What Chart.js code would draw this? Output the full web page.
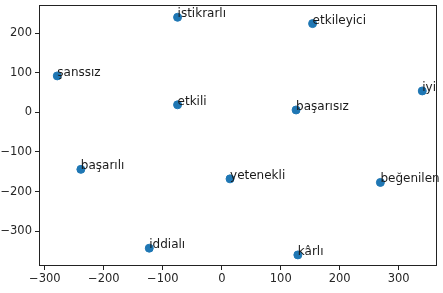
<!DOCTYPE html>
<html>
<head>
<meta charset="utf-8">
<script src="https://cdn.jsdelivr.net/npm/chart.js@4/dist/chart.umd.min.js"></script>
<style>
  html, body { margin: 0; padding: 0; background: #fff; }
  #wrap { width: 443px; height: 293px; }
</style>
</head>
<body>
<div id="wrap"><canvas id="chart"></canvas></div>
<script>
const words = ["istikrarlı", "etkileyici", "şanssız", "iyi", "etkili", "başarısız", "başarılı", "yetenekli", "beğenilen", "iddialı", "kârlı"];
const xValues = [-75, 154, -279, 340, -75, 126, -239, 14, 269, -123, 129];
const yValues = [240, 224, 92, 54, 19, 6, -144, -168, -177, -343, -360];
const xTicks = [-300, -200, -100, 0, 100, 200, 300];
const yTicks = [-300, -200, -100, 0, 100, 200];

const points = words.map((w, i) => ({ x: xValues[i], y: yValues[i] }));

function fmt(v) {
  return v < 0 ? "\u2212" + Math.abs(v) : String(v);
}

// draw each word next to its point, plus the full box around the plot
const wordLabels = {
  id: "wordLabels",
  afterDatasetsDraw(chart) {
    const ctx = chart.ctx;
    const xs = chart.scales.x, ys = chart.scales.y;
    ctx.save();
    ctx.font = "12px 'DejaVu Sans'";
    ctx.fillStyle = "#1a1a1a";
    ctx.textAlign = "left";
    ctx.textBaseline = "alphabetic";
    words.forEach((w, i) => {
      ctx.fillText(w, xs.getPixelForValue(xValues[i]), ys.getPixelForValue(yValues[i]));
    });
    const a = chart.chartArea;
    ctx.strokeStyle = "#222";
    ctx.lineWidth = 1;
    ctx.strokeRect(Math.round(a.left) + 0.5, Math.round(a.top) + 0.5, Math.round(a.right - a.left) - 1, Math.round(a.bottom - a.top) - 1);
    ctx.restore();
  }
};

function noPad(axis) {
  axis.paddingTop = 0;
  axis.paddingBottom = 0;
  axis.paddingLeft = 0;
  axis.paddingRight = 0;
}

new Chart(document.getElementById("chart"), {
  type: "scatter",
  data: {
    datasets: [{
      data: points,
      backgroundColor: "#1f77b4",
      borderColor: "#1f77b4",
      pointRadius: 4,
      pointHoverRadius: 4
    }]
  },
  options: {
    responsive: true,
    maintainAspectRatio: false,
    animation: false,
    layout: { padding: { top: 5, right: 6, bottom: 0, left: 0 } },
    plugins: { legend: { display: false }, tooltip: { enabled: false } },
    scales: {
      x: {
        type: "linear",
        min: -310,
        max: 365,
        afterBuildTicks: (axis) => { axis.ticks = xTicks.map(v => ({ value: v })); },
        afterFit: (axis) => { axis.height = 27; noPad(axis); },
        grid: { drawOnChartArea: false, drawTicks: true, tickLength: 4, color: "#222" },
        border: { display: false },
        ticks: { color: "#262626", font: { family: "DejaVu Sans", size: 11.5 }, padding: 2, maxRotation: 0, callback: fmt }
      },
      y: {
        type: "linear",
        min: -388,
        max: 271,
        afterBuildTicks: (axis) => { axis.ticks = yTicks.map(v => ({ value: v })); },
        afterFit: (axis) => { axis.width = 39; noPad(axis); },
        grid: { drawOnChartArea: false, drawTicks: true, tickLength: 4, color: "#222" },
        border: { display: false },
        ticks: { color: "#262626", font: { family: "DejaVu Sans", size: 11.5 }, padding: 3, callback: fmt }
      }
    }
  },
  plugins: [wordLabels]
});
</script>
</body>
</html>
